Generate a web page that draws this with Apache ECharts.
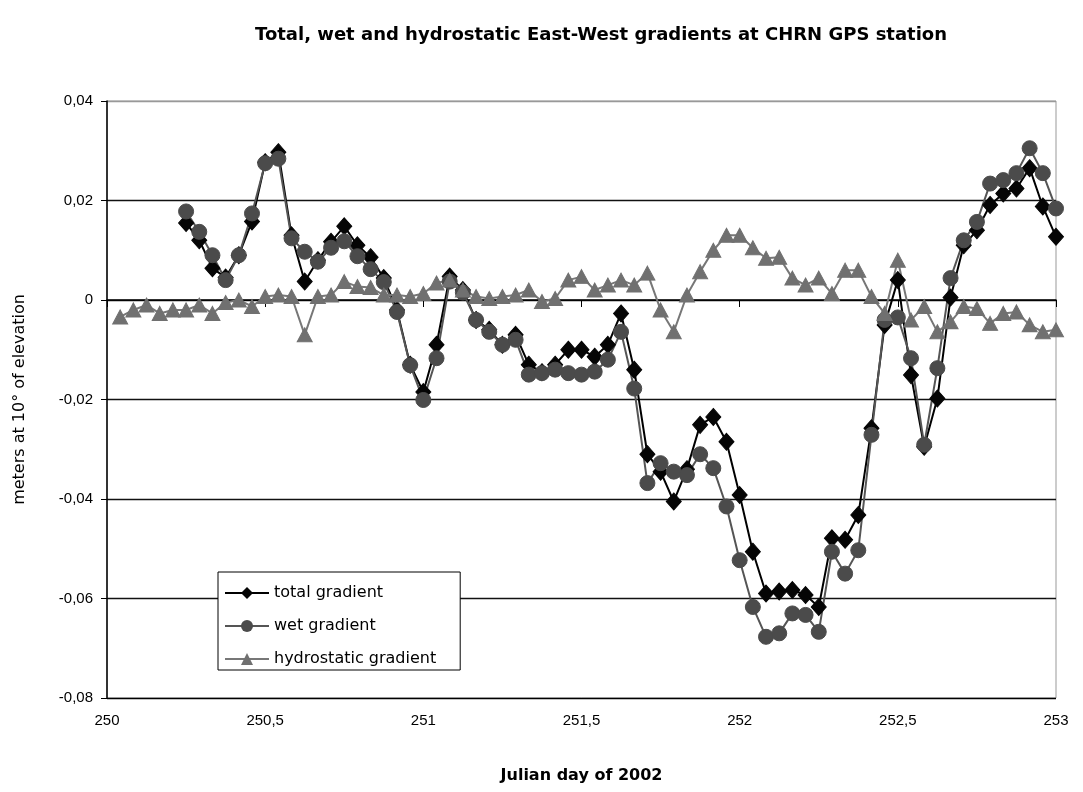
<!DOCTYPE html>
<html>
<head>
<meta charset="utf-8">
<script src="https://cdn.jsdelivr.net/npm/echarts@6/dist/echarts.min.js"></script>
<style>
  html, body { margin: 0; padding: 0; background: #fff; }
  #chart { width: 1083px; height: 792px; }
</style>
</head>
<body>
<div id="chart"></div>
<script>
// day 250 + hour / 24, one point per hour
const firstDay = 250
const totalFirstHour = 6
const hydroFirstHour = 1

const yTicks = ['-0,08', '-0,06', '-0,04', '-0,02', '0', '0,02', '0,04']
const xTicks = ['250', '250,5', '251', '251,5', '252', '252,5', '253']

// total gradient, hours 6..72
const totalValues = [
  0.0155, 0.012, 0.0064, 0.0045, 0.009, 0.0158, 0.0277, 0.0297, 0.013, 0.0037,
  0.008, 0.0117, 0.0148, 0.011, 0.0086, 0.0044, -0.002, -0.013, -0.0185, -0.009,
  0.0047, 0.002, -0.004, -0.006, -0.009, -0.007, -0.013, -0.0145, -0.013, -0.010,
  -0.010, -0.0114, -0.009, -0.0027, -0.014, -0.031, -0.0345, -0.0405, -0.034, -0.0251,
  -0.0235, -0.0285, -0.0392, -0.0506, -0.059, -0.0586, -0.0583, -0.0593, -0.0617, -0.0479,
  -0.0482, -0.0432, -0.0258, -0.005, 0.004, -0.0151, -0.0295, -0.0198, 0.0005, 0.011,
  0.014, 0.0191, 0.0214, 0.0224, 0.0265, 0.0188, 0.0127
]

// wet gradient, hours 6..72
const wetValues = [
  0.0178, 0.0137, 0.009, 0.004, 0.009, 0.0174, 0.0275, 0.0284, 0.0124, 0.0097,
  0.0077, 0.0105, 0.0118, 0.0088, 0.0062, 0.0036, -0.0024, -0.0131, -0.0201, -0.0117,
  0.0037, 0.0015, -0.004, -0.0064, -0.009, -0.008, -0.015, -0.0147, -0.014, -0.0147,
  -0.015, -0.0144, -0.012, -0.0064, -0.0178, -0.0368, -0.0328, -0.0345, -0.0352, -0.031,
  -0.0338, -0.0415, -0.0523, -0.0617, -0.0677, -0.067, -0.063, -0.0633, -0.0667, -0.0506,
  -0.055, -0.0503, -0.0271, -0.004, -0.0035, -0.0117, -0.0291, -0.0137, 0.0044, 0.012,
  0.0157, 0.0234, 0.0241, 0.0255, 0.0305, 0.0255, 0.0184
]

// hydrostatic gradient, hours 1..72
const hydroValues = [
  -0.0034, -0.002, -0.001, -0.0027, -0.002, -0.002, -0.001, -0.0027, -0.0005, 0,
  -0.0013, 0.0007, 0.001, 0.0007, -0.007, 0.0007, 0.001, 0.0037, 0.0027, 0.0025,
  0.001, 0.001, 0.0007, 0.0013, 0.0034, 0.004, 0.002, 0.0007, 0.0003, 0.0007,
  0.001, 0.002, -0.0003, 0.0003, 0.004, 0.0047, 0.002, 0.003, 0.004, 0.003,
  0.0054, -0.002, -0.0064, 0.001, 0.0057, 0.010, 0.013, 0.013, 0.0105, 0.0084,
  0.0086, 0.0044, 0.003, 0.0044, 0.0013, 0.006, 0.006, 0.0007, -0.0027, 0.008,
  -0.004, -0.0013, -0.0064, -0.0044, -0.0013, -0.0017, -0.0047, -0.0027, -0.0024, -0.005,
  -0.0064, -0.006
]

function toPoints(values, firstHour) {
  return values.map(function (v, i) {
    return [firstDay + (firstHour + i) / 24, v]
  })
}

const chart = echarts.init(document.getElementById('chart'))
const comic = 'DejaVu Sans'

const option = {
  backgroundColor: '#fff',
  animation: false,
  title: {
    text: 'Total, wet and hydrostatic East-West gradients at CHRN GPS station',
    left: 250,
    top: 21,
    textStyle: { fontFamily: comic, fontWeight: 'bold', fontSize: 18, color: '#000' }
  },
  legend: {
    orient: 'vertical',
    left: 218,
    top: 572,
    itemWidth: 44,
    itemHeight: 15,
    itemGap: 17,
    padding: [13, 24, 3, 6],
    backgroundColor: '#fff',
    borderColor: '#000',
    borderWidth: 1,
    textStyle: { fontFamily: comic, fontSize: 16, color: '#000' },
    data: ['total gradient', 'wet gradient', 'hydrostatic gradient']
  },
  grid: {
    left: 107,
    right: 27,
    top: 101,
    bottom: 94,
    show: true,
    borderColor: '#999',
    borderWidth: 1
  },
  xAxis: {
    type: 'value',
    min: 250,
    max: 253,
    interval: 0.5,
    name: 'Julian day of 2002',
    nameLocation: 'middle',
    nameGap: 70,
    nameTextStyle: { fontFamily: comic, fontWeight: 'bold', fontSize: 16, color: '#000' },
    axisLine: { lineStyle: { color: '#000', width: 1.5 } },
    axisTick: { length: 7, lineStyle: { color: '#000' } },
    axisLabel: {
      margin: 15,
      fontFamily: 'Liberation Sans',
      fontSize: 15,
      color: '#000',
      formatter: function (v) { return xTicks[Math.round((v - 250) * 2)] }
    },
    splitLine: { show: false }
  },
  yAxis: {
    type: 'value',
    min: -0.08,
    max: 0.04,
    interval: 0.02,
    name: 'meters at 10° of elevation',
    nameLocation: 'middle',
    nameRotate: 90,
    nameGap: 79,
    nameTextStyle: { fontFamily: comic, fontSize: 16, color: '#000' },
    axisLine: { show: true, lineStyle: { color: '#000', width: 1.5 } },
    axisTick: { show: true, length: 6, lineStyle: { color: '#000' } },
    axisLabel: {
      margin: 14,
      fontFamily: 'Liberation Sans',
      fontSize: 15,
      color: '#000',
      formatter: function (v) { return yTicks[Math.round((v + 0.08) / 0.02)] }
    },
    splitLine: {
      lineStyle: {
        color: ['#000', '#111', '#111', '#111', '#111', '#111', '#999'],
        width: 1.3
      }
    }
  },
  series: [
    {
      name: 'total gradient',
      type: 'line',
      data: toPoints(totalValues, totalFirstHour),
      symbol: 'diamond',
      symbolSize: [15, 17],
      lineStyle: { color: '#000', width: 2 },
      itemStyle: { color: '#050505', borderColor: '#050505' }
    },
    {
      name: 'wet gradient',
      type: 'line',
      data: toPoints(wetValues, totalFirstHour),
      symbol: 'circle',
      symbolSize: 15,
      lineStyle: { color: '#555', width: 2 },
      itemStyle: { color: '#4b4b4b', borderColor: '#4b4b4b' }
    },
    {
      name: 'hydrostatic gradient',
      type: 'line',
      data: toPoints(hydroValues, hydroFirstHour),
      symbol: 'triangle',
      symbolSize: [15, 14],
      lineStyle: { color: '#777', width: 2 },
      itemStyle: { color: '#707070', borderColor: '#707070' }
    }
  ]
}

chart.setOption(option)
</script>
</body>
</html>
